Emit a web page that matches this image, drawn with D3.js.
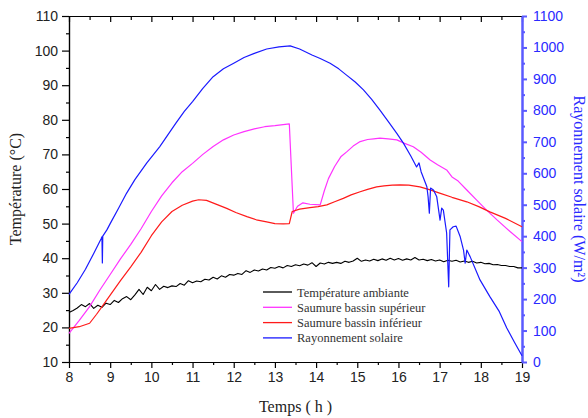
<!DOCTYPE html>
<html><head><meta charset="utf-8">
<script src="https://cdn.jsdelivr.net/npm/d3@7/dist/d3.min.js"></script>
<style>body{margin:0;background:#fff}svg{display:block}</style>
</head><body><svg id="c" width="588" height="418"></svg>
<script>
// ---- data ----
const xTicks = [8,9,10,11,12,13,14,15,16,17,18,19];
const yLeftTicks = [10,20,30,40,50,60,70,80,90,100,110];
const yRightTicks = [0,100,200,300,400,500,600,700,800,900,1000,1100];
const seriesNames = ["Température ambiante","Saumure bassin supérieur","Saumure bassin inférieur","Rayonnement solaire"];
const seriesColors = ["#000000","#ff33ff","#ff1a1a","#1a1aff"];

// ambient temperature, every 0.1 h from 8.0 to 19.0
const ambientT = [24.3,24.9,25.6,26.6,26.0,26.9,25.5,26.4,25.8,27.0,
26.6,27.8,27.2,28.3,28.9,28.0,29.4,31.0,29.5,31.6,
30.6,32.4,31.0,31.9,31.5,32.0,31.8,32.7,32.2,33.5,
32.9,33.4,33.2,33.9,33.7,34.5,34.0,34.9,34.5,35.3,
35.1,35.6,35.3,36.4,35.9,36.6,36.3,36.9,36.6,37.3,
37.1,37.6,37.2,37.9,37.6,38.1,37.8,38.3,38.0,38.7,
37.6,38.6,38.3,38.8,38.5,38.8,38.5,39.1,38.8,39.2,
40.0,39.1,39.5,39.2,39.7,39.3,39.8,39.4,40.0,39.5,
39.9,39.4,39.8,39.5,40.2,39.5,39.7,39.3,39.6,39.2,
39.5,39.0,39.4,39.1,39.4,38.9,39.2,38.8,39.1,38.6,
38.8,38.4,38.5,38.1,38.2,37.9,37.9,37.6,37.6,37.2,37.2];

const upperH = [8.0,8.25,8.5,8.75,9.0,9.25,9.5,9.75,10.0,10.25,10.5,10.75,11.0,11.25,11.5,11.75,12.0,12.25,12.5,12.75,13.0,13.2,13.35,
13.45,13.55,13.68,13.85,14.1,14.2,14.3,14.45,14.6,14.75,14.9,15.07,15.25,15.4,15.55,15.75,15.96,16.15,16.36,16.55,16.77,16.95,17.17,17.3,17.45,17.66,17.9,18.14,18.4,18.71,19.0];
const upperT = [18.3,22.0,26.0,30.8,35.3,39.8,44.0,48.5,53.5,58.0,61.8,65.0,67.4,70.0,72.3,74.2,75.6,76.6,77.4,78.0,78.3,78.6,78.8,
53.0,55.0,56.0,55.6,55.4,59.5,63.0,66.5,69.3,70.8,72.4,73.7,74.3,74.5,74.7,74.5,74.2,73.2,72.2,70.6,68.4,67.0,65.5,63.5,62.3,59.7,56.8,53.9,51.0,47.7,44.8];

const lowerH = [8.0,8.25,8.5,8.67,8.85,9.0,9.25,9.5,9.75,10.0,10.25,10.5,10.75,11.0,11.15,11.34,11.6,11.83,12.05,12.32,12.55,12.8,13.0,13.2,13.35,
13.42,13.6,13.85,14.05,14.26,14.45,14.66,14.85,15.07,15.25,15.47,15.65,15.85,16.04,16.25,16.52,16.75,17.0,17.3,17.66,17.95,18.22,18.6,19.0];
const lowerT = [19.7,20.2,21.2,23.8,26.8,29.3,33.5,37.5,41.7,46.5,50.5,53.5,55.3,56.5,56.9,56.7,55.5,54.4,53.2,52.0,51.1,50.5,50.0,49.9,50.0,
53.5,54.2,54.6,54.9,55.4,56.3,57.3,58.3,59.2,59.9,60.6,60.9,61.1,61.2,61.1,60.6,59.8,58.8,57.6,56.3,54.9,53.4,51.5,49.1];

const solarH = [8.0,8.2,8.4,8.6,8.78,8.80,8.81,8.82,8.92,9.0,9.2,9.4,9.6,9.89,10.2,10.4,10.6,10.8,11.0,11.25,11.5,11.75,12.0,12.25,12.5,12.8,13.1,13.37,13.6,13.9,14.1,14.34,14.55,14.74,14.95,15.15,15.35,15.55,15.75,15.96,16.12,16.3,16.44,16.5,16.55,16.69,16.72,16.75,16.78,16.85,16.93,17.01,17.05,17.09,17.17,17.22,17.25,17.33,17.4,17.5,17.58,17.62,17.66,17.74,17.98,18.22,18.45,18.63,18.82,19.0];
const solarW = [215,252,295,345,392,398,315,400,420,440,488,537,580,633,684,722,760,797,828,870,907,932,950,968,981,995,1002,1005,995,976,965,950,932,912,890,865,835,801,765,727,696,655,620,633,605,557,525,473,553,547,525,451,489,483,410,239,420,430,432,398,356,314,356,335,261,208,160,108,62,20];

// ---- layout ----
const X0=69, X1=522, Y0=362, Y1=16;
const svg = d3.select("#c");
const x = d3.scaleLinear().domain([8,19]).range([X0,X1]);
const yL = d3.scaleLinear().domain([10,110]).range([Y0,Y1]);
const yR = d3.scaleLinear().domain([0,1100]).range([Y0,Y1]);
const tickFont = "'Liberation Sans', Arial, sans-serif";
const serif = "'Liberation Serif', 'Times New Roman', serif";

const xMinor = d3.range(8.5,19,1);
const yLMinor = d3.range(15,110,10);
const yRMinor = d3.range(50,1100,100);

function style(g, color, sw){
  g.selectAll("path.domain").attr("stroke",color).attr("stroke-width",sw);
  g.selectAll(".tick line").attr("stroke",color).attr("stroke-width",sw);
  g.selectAll(".tick text").attr("fill",color).style("font-family",tickFont).style("font-size","14px");
}

// bottom
let g = svg.append("g").attr("transform",`translate(0,${Y0})`)
  .call(d3.axisBottom(x).tickValues(xTicks).tickFormat(d3.format("d")).tickSize(6).tickSizeOuter(0).tickPadding(4));
style(g,"#000",1.2);
g.selectAll(".tick text").attr("fill","#222");
g = svg.append("g").attr("transform",`translate(0,${Y0})`)
  .call(d3.axisBottom(x).tickValues(xMinor).tickFormat("").tickSize(3).tickSizeOuter(0));
style(g,"#000",1.2);
// top (inward ticks)
g = svg.append("g").attr("transform",`translate(0,${Y1})`)
  .call(d3.axisBottom(x).tickValues(xTicks).tickFormat("").tickSize(6).tickSizeOuter(0));
style(g,"#000",1.2);
g = svg.append("g").attr("transform",`translate(0,${Y1})`)
  .call(d3.axisBottom(x).tickValues(xMinor).tickFormat("").tickSize(4).tickSizeOuter(0));
style(g,"#000",1.2);
// left
g = svg.append("g").attr("transform",`translate(${X0},0)`)
  .call(d3.axisLeft(yL).tickValues(yLeftTicks).tickFormat(d3.format("d")).tickSize(7).tickSizeOuter(0).tickPadding(4));
style(g,"#000",1.2);
g.selectAll(".tick text").attr("fill","#222");
g = svg.append("g").attr("transform",`translate(${X0},0)`)
  .call(d3.axisLeft(yL).tickValues(yLMinor).tickFormat("").tickSize(3).tickSizeOuter(0));
style(g,"#000",1.2);
// right (blue)
g = svg.append("g").attr("transform",`translate(${X1},0)`)
  .call(d3.axisRight(yR).tickValues(yRightTicks).tickFormat(d3.format("d")).tickSize(5).tickSizeOuter(0).tickPadding(6));
style(g,"#5a5aff",2);
g.selectAll(".tick text").attr("fill","#2a2aff");
g = svg.append("g").attr("transform",`translate(${X1},0)`)
  .call(d3.axisRight(yR).tickValues(yRMinor).tickFormat("").tickSize(3).tickSizeOuter(0));
style(g,"#5a5aff",2);

// lines
const plot = svg.append("g");
function draw(pts, color, w){
  plot.append("path").datum(pts).attr("fill","none").attr("stroke",color)
    .attr("stroke-width",w).attr("stroke-linejoin","round")
    .attr("d", d3.line().x(d=>d[0]).y(d=>d[1]));
}
draw(ambientT.map((v,i)=>[x(8+i*0.1), yL(v)]), seriesColors[0], 1.1);
draw(upperH.map((h,i)=>[x(h), yL(upperT[i])]), seriesColors[1], 1.2);
draw(lowerH.map((h,i)=>[x(h), yL(lowerT[i])]), seriesColors[2], 1.2);
draw(solarH.map((h,i)=>[x(h), yR(solarW[i])]), seriesColors[3], 1.2);

// legend
const lg = svg.append("g");
seriesNames.forEach((n,i)=>{
  const yy = 292 + i*15.3;
  lg.append("line").attr("x1",263).attr("x2",292).attr("y1",yy).attr("y2",yy)
    .attr("stroke",seriesColors[i]).attr("stroke-width",1.3);
  lg.append("text").attr("x",297).attr("y",yy+4.5).text(n)
    .style("font-family",serif).style("font-size","12.5px").attr("fill","#333");
});

// axis titles
svg.append("text").attr("x",(X0+X1)/2).attr("y",412).attr("text-anchor","middle")
  .style("font-family",serif).style("font-size","16px").attr("fill","#222").text("Temps ( h )");
svg.append("text").attr("transform",`translate(21,${(Y0+Y1)/2}) rotate(-90)`).attr("text-anchor","middle")
  .style("font-family",serif).style("font-size","16px").attr("fill","#222").text("Température (°C)");
svg.append("text").attr("transform",`translate(574,${(Y0+Y1)/2}) rotate(90)`).attr("text-anchor","middle")
  .style("font-family",serif).style("font-size","16px").attr("fill","#2a2aff").text("Rayonnement solaire (W/m²)");
</script></body></html>
